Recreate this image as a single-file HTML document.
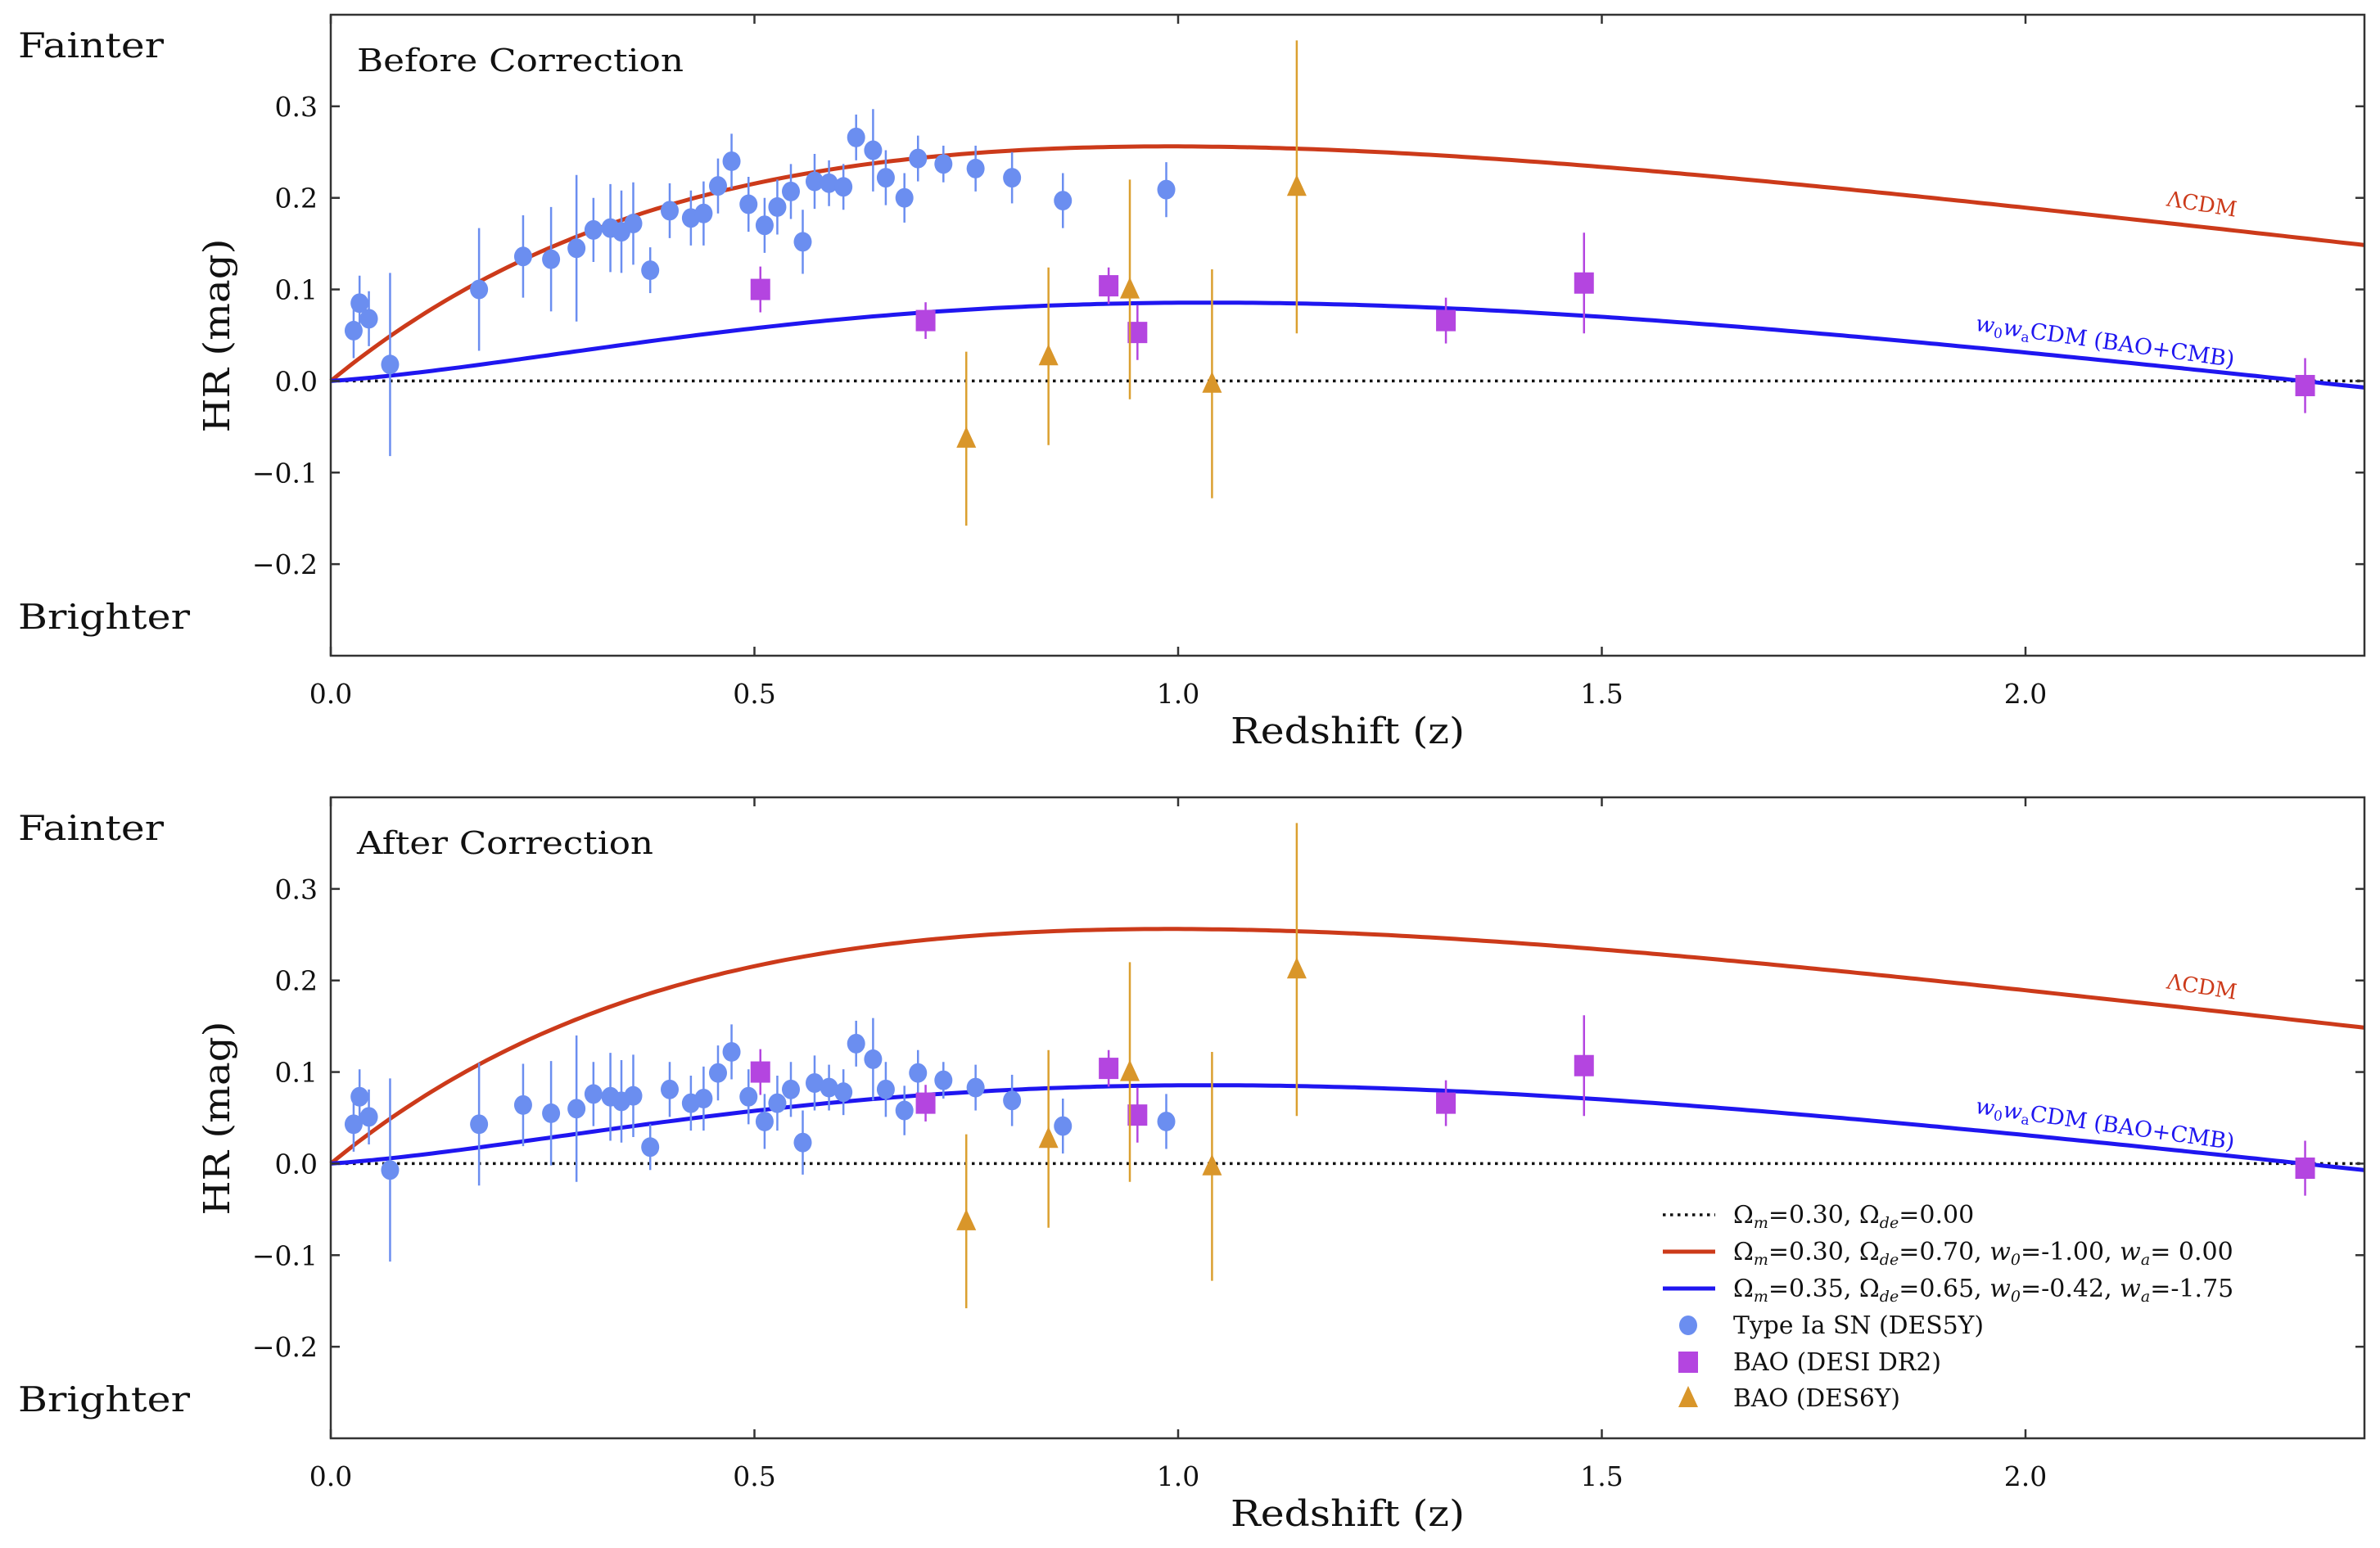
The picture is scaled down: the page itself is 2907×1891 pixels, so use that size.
<!DOCTYPE html>
<html><head><meta charset="utf-8">
<style>
html,body{margin:0;padding:0;background:#fff;}
svg{display:block;font-family:"DejaVu Serif","Liberation Serif",serif;}
</style></head>
<body>
<svg id="fig" width="2907" height="1891" viewBox="0 0 2907 1891" xmlns="http://www.w3.org/2000/svg"></svg>
<script>
// ---- data ----
const snZ = [0.027,0.034,0.045,0.07,0.175,0.227,0.26,0.29,0.31,0.33,0.343,0.357,0.377,0.40,0.425,0.44,0.457,0.473,0.493,0.512,0.527,0.543,0.557,0.571,0.588,0.605,0.62,0.64,0.655,0.677,0.693,0.723,0.761,0.804,0.864,0.986];
const snBefore = [0.055,0.085,0.068,0.018,0.10,0.136,0.133,0.145,0.165,0.167,0.163,0.172,0.121,0.186,0.178,0.183,0.213,0.24,0.193,0.17,0.19,0.207,0.152,0.218,0.216,0.212,0.266,0.252,0.222,0.20,0.243,0.237,0.232,0.222,0.197,0.209];
const snAfter = [0.043,0.073,0.051,-0.007,0.043,0.064,0.055,0.06,0.076,0.073,0.068,0.074,0.018,0.081,0.066,0.071,0.099,0.122,0.073,0.046,0.066,0.081,0.023,0.088,0.083,0.078,0.131,0.114,0.081,0.058,0.099,0.091,0.083,0.069,0.041,0.046];
const snErr = [0.03,0.03,0.03,0.1,0.067,0.045,0.057,0.08,0.035,0.048,0.045,0.045,0.025,0.03,0.03,0.035,0.03,0.03,0.03,0.03,0.03,0.03,0.035,0.03,0.025,0.025,0.025,0.045,0.03,0.027,0.025,0.02,0.025,0.028,0.03,0.03];
const desiZ = [0.507,0.702,0.918,0.952,1.316,1.479,2.33];
const desiHR = [0.10,0.066,0.104,0.053,0.066,0.107,-0.005];
const desiErr = [0.025,0.02,0.02,0.03,0.025,0.055,0.03];
const des6Z = [0.75,0.847,0.943,1.04,1.14];
const des6HR = [-0.063,0.027,0.10,-0.003,0.212];
const des6Err = [0.095,0.097,0.12,0.125,0.16];
const xTicks = [0,0.5,1.0,1.5,2.0];
const xTickLabels = ["0.0","0.5","1.0","1.5","2.0"];
const yTicks = [-0.2,-0.1,0,0.1,0.2,0.3];
const yTickLabels = ["\u22120.2","\u22120.1","0.0","0.1","0.2","0.3"];
const lcdmParams = [0.30,0.70,-1.00,0.00];
const wcdmParams = [0.35,0.65,-0.42,-1.75];
const refParams = [0.30,0.00];

const NS="http://www.w3.org/2000/svg";
const svg=document.getElementById('fig');
function mk(tag,attrs,parent){const e=document.createElementNS(NS,tag);for(const k in attrs)e.setAttribute(k,attrs[k]);(parent||svg).appendChild(e);return e;}

const X0=404,X1=2888,XMIN=0,XMAX=2.4;
const sx=z=>X0+(z-XMIN)/(XMAX-XMIN)*(X1-X0);

function Einv(z,om,ode,w0,wa){
  const a=1+z, ok=1-om-ode;
  const de=ode*Math.pow(a,3*(1+w0+wa))*Math.exp(-3*wa*z/a);
  return 1/Math.sqrt(om*a*a*a+ok*a*a+de);
}
function dL(z,om,ode,w0,wa){
  const n=200;let s=0;const h=z/n;
  for(let i=0;i<n;i++){const zm=(i+0.5)*h;s+=Einv(zm,om,ode,w0,wa)*h;}
  const ok=1-om-ode;let dm=s;
  if(ok>1e-6){const q=Math.sqrt(ok);dm=Math.sinh(q*s)/q;}
  else if(ok<-1e-6){const q=Math.sqrt(-ok);dm=Math.sin(q*s)/q;}
  return (1+z)*dm;
}
function HR(z,p){if(z<=0)return 0;return 5*Math.log10(dL(z,p[0],p[1],p[2],p[3])/dL(z,refParams[0],refParams[1],-1,0));}

function panel(top,title,snY,pname,withLegend){
  const Y0=top,Y1=top+783,YMIN=-0.3,YMAX=0.4;
  const sy=v=>Y1-(v-YMIN)/(YMAX-YMIN)*(Y1-Y0);
  const g=mk('g',{});
  
  
  const zl=mk('line',{x1:X0,x2:X1,y1:sy(0),y2:sy(0),stroke:'#111','stroke-width':3.5,'stroke-dasharray':'3.5 5.5'},g);
  
  
  function curve(p,color,name){
    let d='';for(let i=0;i<=300;i++){const z=XMAX*i/300;d+=(i?'L':'M')+sx(z).toFixed(1)+','+sy(HR(z,p)).toFixed(1);}
    const c=mk('path',{d:d,fill:'none',stroke:color,'stroke-width':5},g);
    
    
  }
  curve(lcdmParams,'#cc3a1a','lcdm-curve');
  curve(wcdmParams,'#1f16f0','w0wacdm-curve');
  for(let i=0;i<snZ.length;i++){
    const x=sx(snZ[i]),y=snY[i],e=snErr[i];
    const l=mk('line',{x1:x,x2:x,y1:sy(y+e),y2:sy(y-e),stroke:'#6b8ef0','stroke-width':2.5},g);
    
    
    const c=mk('ellipse',{cx:x,cy:sy(y),rx:11,ry:12,fill:'#6b8ef0'},g);
    
    
  }
  for(let i=0;i<desiZ.length;i++){
    const x=sx(desiZ[i]),y=desiHR[i],e=desiErr[i];
    const l=mk('line',{x1:x,x2:x,y1:sy(y+e),y2:sy(y-e),stroke:'#b445e0','stroke-width':2.5},g);
    
    
    const r=mk('rect',{x:x-12,y:sy(y)-13,width:24,height:26,fill:'#b445e0'},g);
    
    
  }
  for(let i=0;i<des6Z.length;i++){
    const x=sx(des6Z[i]),y=des6HR[i],e=des6Err[i];
    const l=mk('line',{x1:x,x2:x,y1:sy(y+e),y2:sy(y-e),stroke:'#dba030','stroke-width':2.5},g);
    
    
    const yy=sy(y);
    const t=mk('polygon',{points:`${x},${yy-15} ${x+12},${yy+11} ${x-12},${yy+11}`,fill:'#d9962a'},g);
    
    
  }
  const fr=mk('rect',{x:X0,y:Y0,width:X1-X0,height:Y1-Y0,fill:'none',stroke:'#333','stroke-width':2.5},g);
  
  
  xTicks.forEach((v,i)=>{
    const x=sx(v);
    mk('line',{x1:x,x2:x,y1:Y1,y2:Y1-11,stroke:'#333','stroke-width':2.5},g);
    mk('line',{x1:x,x2:x,y1:Y0,y2:Y0+11,stroke:'#333','stroke-width':2.5},g);
    const t=mk('text',{x:x,y:Y1+58,'font-size':33,'text-anchor':'middle',fill:'#111'},g);
    t.textContent=xTickLabels[i];
    
    
  });
  yTicks.forEach((v,i)=>{
    const y=sy(v);
    mk('line',{x1:X0,x2:X0+11,y1:y,y2:y,stroke:'#333','stroke-width':2.5},g);
    mk('line',{x1:X1,x2:X1-11,y1:y,y2:y,stroke:'#333','stroke-width':2.5},g);
    const t=mk('text',{x:X0-16,y:y+12,'font-size':33,'text-anchor':'end',fill:'#111'},g);
    t.textContent=yTickLabels[i];
    
    
  });
  function txt(s,attrs,name){const t=mk('text',Object.assign({fill:'#111'},attrs),g);t.textContent=s;return t;}
  txt('Fainter',{x:22,y:top+52,'font-size':42,textLength:178,lengthAdjust:'spacingAndGlyphs'},'fainter-label');
  txt('Brighter',{x:22,y:top+750,'font-size':42,textLength:210,lengthAdjust:'spacingAndGlyphs'},'brighter-label');
  txt(title,{x:436,y:top+69,'font-size':38,textLength:title.length>16?399:362,lengthAdjust:'spacingAndGlyphs'},'panel-title');
  txt('Redshift (z)',{x:1646,y:top+890,'font-size':44,'text-anchor':'middle',textLength:286,lengthAdjust:'spacingAndGlyphs'},'x-axis-title');
  txt('HR (mag)',{x:0,y:0,'font-size':44,'text-anchor':'middle',transform:`translate(280,${top+392}) rotate(-90)`,textLength:237,lengthAdjust:'spacingAndGlyphs'},'y-axis-title');
  txt('\u039BCDM',{x:0,y:0,'font-size':26,'text-anchor':'middle',fill:'#cc3a1a',transform:`translate(2688,${top+240}) rotate(9)`},'lcdm-label');
  const wl=mk('text',{x:0,y:0,'font-size':27,'text-anchor':'middle',fill:'#1f16f0',transform:`translate(2570,${top+408}) rotate(8)`},g);
  wl.innerHTML='<tspan font-style="italic">w</tspan><tspan font-size="17" dy="5">0</tspan><tspan font-style="italic" dy="-5">w</tspan><tspan font-size="17" dy="5">a</tspan><tspan dy="-5">CDM (BAO+CMB)</tspan>';
  
  
  if(withLegend){
    const lg=mk('g',{},g);
    
    
    const rows=[1484,1529,1574,1619,1664,1708];
    mk('line',{x1:2031,x2:2095,y1:rows[0],y2:rows[0],stroke:'#111','stroke-width':3.5,'stroke-dasharray':'3.5 5.5'},lg);
    mk('line',{x1:2031,x2:2095,y1:rows[1],y2:rows[1],stroke:'#cc3a1a','stroke-width':5},lg);
    mk('line',{x1:2031,x2:2095,y1:rows[2],y2:rows[2],stroke:'#1f16f0','stroke-width':5},lg);
    mk('ellipse',{cx:2062,cy:rows[3],rx:11,ry:12,fill:'#6b8ef0'},lg);
    mk('rect',{x:2050,y:rows[4]-13,width:24,height:26,fill:'#b445e0'},lg);
    mk('polygon',{points:`2062,${rows[5]-15} 2074,${rows[5]+11} 2050,${rows[5]+11}`,fill:'#d9962a'},lg);
    const S=(t)=>`<tspan font-size="19" dy="6" font-style="italic">${t}</tspan><tspan dy="-6">`;
    const labels=[
      ['\u03A9'+S('m')+'=0.30, \u03A9</tspan>'+S('de')+'=0.00</tspan>',322],
      ['\u03A9'+S('m')+'=0.30, \u03A9</tspan>'+S('de')+'=0.70, <tspan font-style="italic">w</tspan></tspan>'+S('0')+'=-1.00, <tspan font-style="italic">w</tspan></tspan>'+S('a')+'= 0.00</tspan>',615],
      ['\u03A9'+S('m')+'=0.35, \u03A9</tspan>'+S('de')+'=0.65, <tspan font-style="italic">w</tspan></tspan>'+S('0')+'=-0.42, <tspan font-style="italic">w</tspan></tspan>'+S('a')+'=-1.75</tspan>',615],
      ['Type Ia SN (DES5Y)',306],['BAO (DESI DR2)',254],['BAO (DES6Y)',204]];
    labels.forEach((L,i)=>{
      const t=mk('text',{x:2117,y:rows[i]+10,'font-size':30,fill:'#111'},lg);
      t.innerHTML=L[0];
      
      
      if(i>=3){t.setAttribute('textLength',L[1]);t.setAttribute('lengthAdjust','spacingAndGlyphs');}
    });
  }
}
panel(18,'Before Correction',snBefore,'top-panel',false);
panel(974,'After Correction',snAfter,'bottom-panel',true);
</script>
</body></html>
